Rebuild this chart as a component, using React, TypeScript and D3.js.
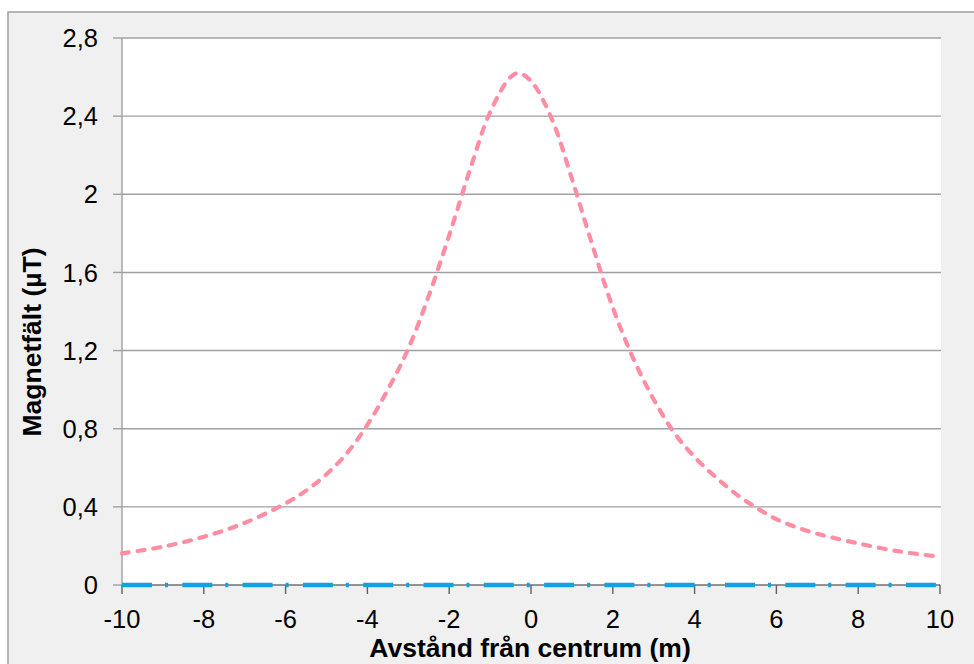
import * as d3 from "d3";

// distance from centre (m) and field (µT)
const distances = [-10, -9, -8, -7, -6, -5.5, -5, -4.5, -4, -3.5, -3, -2.5, -2, -1.5, -1, -0.5, -0.3,
    0, 0.5, 1, 1.5, 2, 2.5, 3, 3.5, 4, 4.5, 5, 5.5, 6, 6.5, 7, 8, 9, 10];
const fieldValues = [0.162, 0.196, 0.247, 0.318, 0.418, 0.483, 0.567, 0.675, 0.82, 1.0, 1.21, 1.48, 1.79, 2.12, 2.42, 2.6, 2.62,
    2.58, 2.39, 2.08, 1.74, 1.42, 1.16, 0.95, 0.78, 0.655, 0.555, 0.468, 0.397, 0.337, 0.295, 0.262, 0.213, 0.172, 0.145];

const baseDistances = [-10, 10];
const baseValues = [0, 0];

const xTicks = [-10, -8, -6, -4, -2, 0, 2, 4, 6, 8, 10];
const yTicks = [0, 0.4, 0.8, 1.2, 1.6, 2, 2.4, 2.8];

const xTitle = "Avstånd från centrum (m)";
const yTitle = "Magnetfält (µT)";

function App() {
    const width = 974;
    const height = 664;
    const area = { left: 122, right: 941, top: 38, bottom: 585 };
    const font = "'Liberation Sans', Arial, sans-serif";

    const scX = d3.scaleLinear().domain([-10, 10]).range([area.left, 940]);
    const scY = d3.scaleLinear().domain([0, 2.8]).range([area.bottom, area.top]);

    const line = d3.line<number>()
        .x((_, i) => scX(distances[i]))
        .y(d => scY(d))
        .curve(d3.curveCatmullRom.alpha(0.5));

    const baseLine = d3.line<number>()
        .x((_, i) => scX(baseDistances[i]))
        .y(d => scY(d));

    const fmt = (v: number) => String(v).replace(".", ",");

    return (
        <svg width={width} height={height}
            style={{ position: "absolute", left: 0, top: 0, background: "#fff" }}>
            <rect x={8} y={12} width={width} height={height} fill="#f0f0f0"
                stroke="#a0a0a0" strokeWidth={1.5} />
            <rect x={area.left} y={area.top} width={area.right - area.left}
                height={area.bottom - area.top} fill="#fff" />

            {yTicks.filter(t => t > 0).map(t => (
                <line key={"g" + t} x1={area.left} x2={area.right} y1={scY(t)} y2={scY(t)}
                    stroke="#a0a0a0" strokeWidth={1.4} />
            ))}
            {yTicks.map(t => (
                <line key={"yt" + t} x1={113} x2={area.left} y1={scY(t)} y2={scY(t)}
                    stroke="#a0a0a0" strokeWidth={1.4} />
            ))}
            <line x1={area.left} x2={area.left} y1={area.top} y2={area.bottom}
                stroke="#a0a0a0" strokeWidth={1.4} />
            <line x1={area.left} x2={940} y1={area.bottom} y2={area.bottom}
                stroke="#707070" strokeWidth={1.6} />
            {xTicks.map(t => (
                <line key={"xt" + t} x1={scX(t)} x2={scX(t)} y1={area.bottom} y2={594}
                    stroke="#606060" strokeWidth={1.4} />
            ))}

            {yTicks.map(t => (
                <text key={"yl" + t} x={98} y={scY(t)} dy="0.36em" textAnchor="end"
                    fontFamily={font} fontSize={25.5} fill="#000">{fmt(t)}</text>
            ))}
            {xTicks.map(t => (
                <text key={"xl" + t} x={scX(t)} y={628} textAnchor="middle"
                    fontFamily={font} fontSize={25.5} fill="#000">{fmt(t)}</text>
            ))}

            <path d={line(fieldValues) ?? ""} fill="none" stroke="#ff8ea2"
                strokeWidth={4.2} strokeDasharray="7 8.8" strokeLinecap="round" />
            <path d={baseLine(baseValues) ?? ""} fill="none" stroke="#12a2e0"
                strokeWidth={4.5} strokeDasharray="30 13 3 14.3" />

            <text x={530} y={657} textAnchor="middle" fontFamily={font} fontSize={26.5}
                fontWeight="bold" fill="#000">{xTitle}</text>
            <text transform="translate(41,342) rotate(-90)" textAnchor="middle"
                fontFamily={font} fontSize={26.5} fontWeight="bold" fill="#000">{yTitle}</text>
        </svg>
    );
}

export default App;
